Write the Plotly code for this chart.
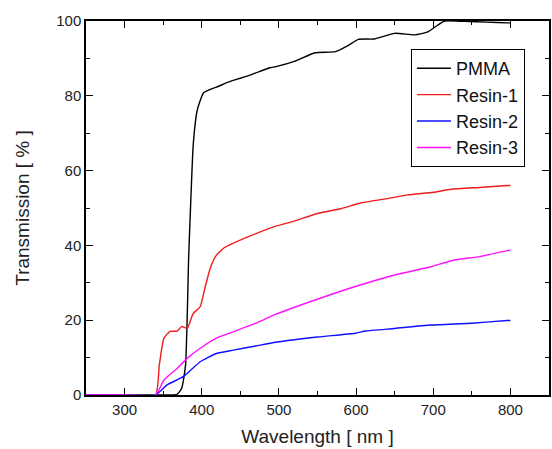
import plotly.graph_objects as go

pmma_x = [250, 300, 340, 360, 368, 374, 379, 383, 385, 389, 394, 402, 410, 419, 435, 450, 466, 488, 496, 520, 547, 573, 590, 603, 624, 650, 676, 693, 705, 715, 740, 770, 796, 800]
pmma_y = [0, 0, 0, 0, 0.2, 1.8, 8, 36.6, 47.6, 67, 76, 80.7, 81.6, 82.3, 83.7, 84.7, 85.8, 87.5, 87.8, 89.2, 91.5, 91.8, 93.5, 95.1, 95.2, 96.7, 96.3, 97.1, 98.8, 100, 99.9, 99.7, 99.5, 99.5]

r1_x = [250, 300, 340, 345, 351, 359, 368, 374, 381, 389, 398, 404, 411, 419, 430, 441, 466, 494, 520, 551, 580, 607, 640, 667, 700, 723, 760, 796, 800]
r1_y = [0, 0, 0, 8, 15.2, 17, 17.1, 18.3, 17.8, 21.8, 23.6, 28.5, 33.9, 37.4, 39.5, 40.6, 42.8, 45, 46.5, 48.6, 49.8, 51.4, 52.5, 53.5, 54.2, 55, 55.5, 56, 56]

r2_x = [250, 300, 340, 355, 376, 398, 419, 441, 470, 496, 550, 599, 612, 650, 697, 750, 796, 800]
r2_y = [0, 0, 0, 2.7, 4.9, 8.9, 11.1, 12, 13.1, 14.1, 15.5, 16.5, 17.1, 17.8, 18.7, 19.2, 19.9, 19.9]

r3_x = [250, 300, 340, 351, 368, 381, 398, 419, 441, 470, 496, 547, 599, 650, 697, 727, 760, 796, 800]
r3_y = [0, 0, 0, 4, 7.1, 9.8, 12.5, 15.2, 16.9, 19.2, 21.6, 25.4, 29, 32.1, 34.3, 36.1, 37, 38.6, 38.7]

x_ticks = [300, 400, 500, 600, 700, 800]
y_ticks = [0, 20, 40, 60, 80, 100]

series = [
    ("PMMA", pmma_x, pmma_y, "#000000"),
    ("Resin-1", r1_x, r1_y, "#ee1c1c"),
    ("Resin-2", r2_x, r2_y, "#1010ff"),
    ("Resin-3", r3_x, r3_y, "#ff10ff"),
]

fig = go.Figure()
for name, xs, ys, c in series:
    fig.add_trace(go.Scatter(x=xs, y=ys, mode="lines", name=name,
                             line=dict(color=c, width=1.4, shape="spline", smoothing=0.5)))

font = "Liberation Sans, Arial, sans-serif"
axis_common = dict(
    showline=True, linecolor="black", linewidth=1.5, mirror="ticks",
    ticks="inside", ticklen=7, tickwidth=1.2, tickcolor="black",
    showgrid=False, zeroline=False,
    tickfont=dict(family=font, size=15, color="#222"),
)
fig.update_xaxes(range=[250, 850], tickvals=x_ticks,
                 minor=dict(dtick=50, tick0=250, ticks="inside", ticklen=4, tickcolor="black", showgrid=False),
                 title=dict(text="Wavelength [ nm ]", font=dict(family=font, size=19, color="#222"), standoff=13),
                 **axis_common)
fig.update_yaxes(range=[0, 100], tickvals=y_ticks,
                 minor=dict(dtick=10, tick0=0, ticks="inside", ticklen=4, tickcolor="black", showgrid=False),
                 title=dict(text="Transmission [ % ]", font=dict(family=font, size=19, color="#222"), standoff=22),
                 **axis_common)
fig.update_layout(
    width=552, height=449,
    margin=dict(l=86, r=1, t=21, b=54),
    plot_bgcolor="white", paper_bgcolor="white",
    legend=dict(x=0.948, y=0.925, xanchor="right", yanchor="top",
                bordercolor="black", borderwidth=1, bgcolor="white",
                font=dict(family=font, size=18, color="#111"),
                tracegroupgap=0, itemwidth=34),
)
fig.write_html("out.html", config={"displayModeBar": False},
               post_script="document.body.style.margin='0';document.body.style.padding='0';")
